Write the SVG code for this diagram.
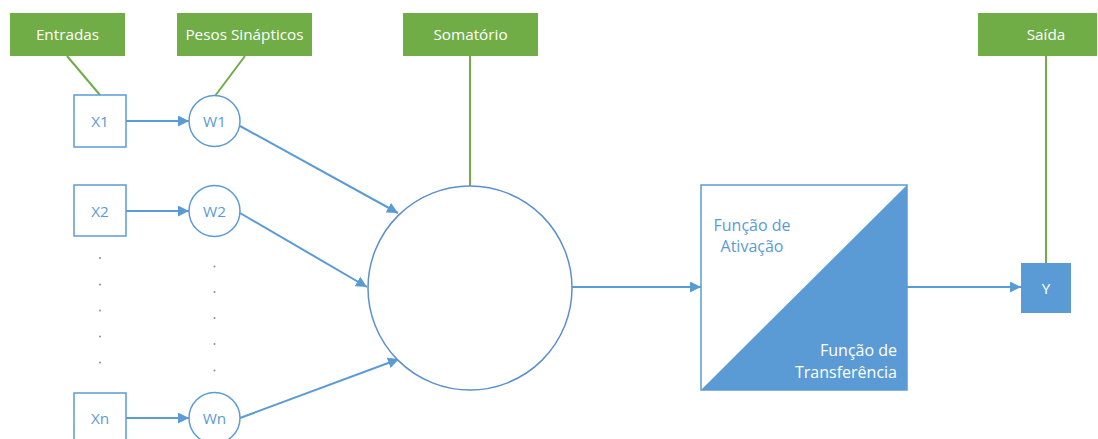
<svg xmlns="http://www.w3.org/2000/svg" width="1098" height="439" viewBox="0 0 1098 439">
<defs>
<style>
.lbl{fill:#70ad47;}
.lt{fill:#ffffff;font-family:"Open Sans","Liberation Sans",sans-serif;font-size:15.3px;text-anchor:middle;}
.gl{stroke:#70ad47;stroke-width:2;fill:none;}
.node{fill:#ffffff;stroke:#5b9bd5;stroke-width:1.5;}
.nt{fill:#5b9bd5;font-family:"Open Sans","Liberation Sans",sans-serif;font-size:15.3px;text-anchor:middle;}
.edge{stroke:#5b9bd5;stroke-width:2;fill:none;marker-end:url(#arr);}
.dot{fill:#7f8fa6;}
</style>
<marker id="arr" viewBox="0 0 10 10" refX="10" refY="5" markerWidth="5.5" markerHeight="5.5" orient="auto" markerUnits="strokeWidth">
<path d="M0,0 L10,5 L0,10 z" fill="#5b9bd5"/>
</marker>
</defs>
<rect width="1098" height="439" fill="#ffffff"/>

<g id="connectors">
<line class="gl" x1="67" y1="56" x2="100" y2="95"/>
<line class="gl" x1="245" y1="56" x2="215" y2="96"/>
<line class="gl" x1="470" y1="56" x2="470" y2="186"/>
<line class="gl" x1="1046" y1="56" x2="1046" y2="263"/>
<line class="edge" x1="126" y1="121" x2="189" y2="121"/>
<line class="edge" x1="126" y1="211" x2="189" y2="211"/>
<line class="edge" x1="126" y1="418" x2="189" y2="418"/>
<line class="edge" x1="240" y1="126" x2="398" y2="213"/>
<line class="edge" x1="240" y1="213" x2="367" y2="287"/>
<line class="edge" x1="240" y1="418" x2="399" y2="359"/>
<line class="edge" x1="572" y1="287" x2="701" y2="287"/>
<line class="edge" x1="907" y1="287" x2="1021" y2="287"/>
</g>

<g id="lbl-entradas"><rect class="lbl" x="10" y="13" width="115" height="43"/><text class="lt" x="67.5" y="40">Entradas</text></g>
<g id="lbl-pesos"><rect class="lbl" x="177" y="13" width="135" height="43"/><text class="lt" x="244.5" y="40">Pesos Sinápticos</text></g>
<g id="lbl-somatorio"><rect class="lbl" x="403" y="13" width="135" height="43"/><text class="lt" x="470.5" y="40">Somatório</text></g>
<g id="lbl-saida"><rect class="lbl" x="978" y="13" width="119" height="43"/><text class="lt" x="1046" y="40">Saída</text></g>

<g id="x1"><rect class="node" x="74" y="95" width="52" height="52"/><text class="nt" x="100" y="126.5">X1</text></g>
<g id="x2"><rect class="node" x="74" y="185" width="52" height="51"/><text class="nt" x="100" y="216.5">X2</text></g>
<g id="xn"><rect class="node" x="74" y="393" width="52" height="52"/><text class="nt" x="100" y="423.5">Xn</text></g>

<g id="w1"><circle class="node" cx="214.5" cy="121" r="25.5"/><text class="nt" x="214.5" y="126.5">W1</text></g>
<g id="w2"><circle class="node" cx="214.5" cy="211" r="25.5"/><text class="nt" x="214.5" y="216.5">W2</text></g>
<g id="wn"><circle class="node" cx="214.5" cy="418" r="25.5"/><text class="nt" x="214.5" y="423.5">Wn</text></g>

<g id="dots-x">
<circle class="dot" cx="100" cy="258" r="1"/><circle class="dot" cx="100" cy="284.5" r="1"/><circle class="dot" cx="100" cy="310.5" r="1"/><circle class="dot" cx="100" cy="336.5" r="1"/><circle class="dot" cx="100" cy="362.5" r="1"/>
</g>
<g id="dots-w">
<circle class="dot" cx="214.5" cy="266.5" r="1"/><circle class="dot" cx="214.5" cy="292" r="1"/><circle class="dot" cx="214.5" cy="318" r="1"/><circle class="dot" cx="214.5" cy="344" r="1"/><circle class="dot" cx="214.5" cy="370.5" r="1"/>
</g>

<g id="somatorio"><circle cx="470" cy="288" r="102" fill="#ffffff" stroke="#5b8fcf" stroke-width="1.5"/></g>

<g id="ativacao">
<rect class="node" x="701" y="185" width="206" height="205"/>
<path d="M701,390 L907,185 L907,390 z" fill="#5b9bd5"/>
<text class="nt" x="752" y="231" style="font-size:16px">Função de</text>
<text class="nt" x="752" y="252" style="font-size:16px">Ativação</text>
<text class="nt" x="897" y="356" style="fill:#ffffff;text-anchor:end;font-size:16px">Função de</text>
<text class="nt" x="897" y="378" style="fill:#ffffff;text-anchor:end;font-size:16px">Transferência</text>
</g>

<g id="y"><rect x="1021" y="263" width="50" height="50" fill="#5b9bd5"/><text class="lt" x="1046" y="293.5">Y</text></g>
</svg>
